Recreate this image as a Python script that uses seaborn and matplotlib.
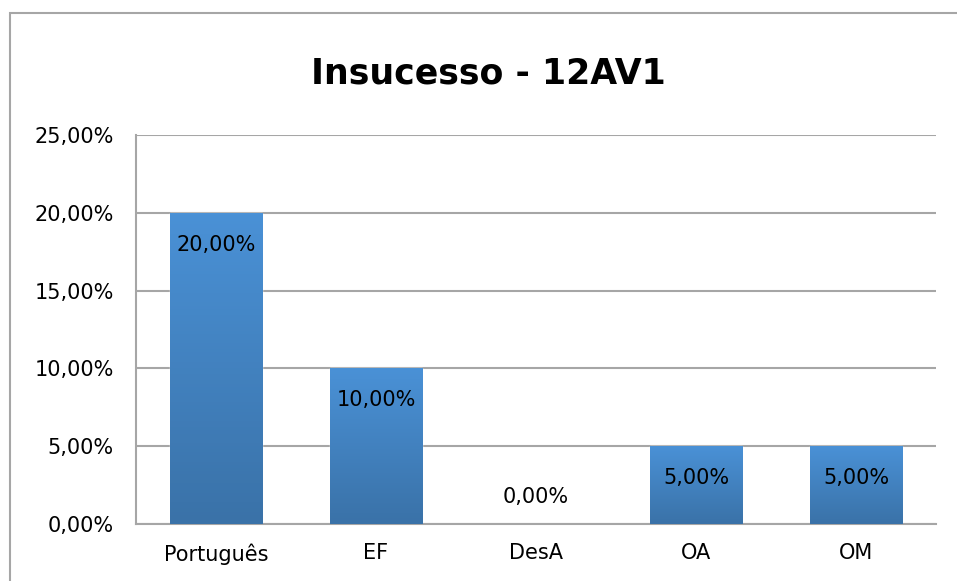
import matplotlib
matplotlib.use('Agg')
import matplotlib.pyplot as plt
import matplotlib.patches as mpatches
from matplotlib.colors import LinearSegmentedColormap
from matplotlib.ticker import FuncFormatter
import numpy as np
import pandas as pd
import seaborn as sns

disciplinas = ['Português', 'EF', 'DesA', 'OA', 'OM']
insucesso = [20.0, 10.0, 0.0, 5.0, 5.0]
titulo = 'Insucesso - 12AV1'

df = pd.DataFrame({'disciplina': disciplinas, 'insucesso': insucesso})

sns.set_style('white')
plt.rcParams['font.family'] = ['DejaVu Sans']
plt.rcParams['text.color'] = 'black'

fig = plt.figure(figsize=(9.57, 5.81), dpi=100)
ax = fig.add_axes([0.1421, 0.0981, 0.836, 0.6695])

sns.barplot(data=df, x='disciplina', y='insucesso', color='#4385c6',
            width=0.58, ax=ax, zorder=2)

# gradient fill clipped to each bar
grad = LinearSegmentedColormap.from_list('g', ['#3a72a8', '#4a91d6'])
for p in ax.patches:
    h = p.get_height()
    if h <= 0:
        continue
    x0 = p.get_x()
    w = p.get_width()
    img = ax.imshow(np.linspace(0, 1, 100).reshape(-1, 1), cmap=grad,
                    origin='lower', aspect='auto',
                    extent=[x0, x0 + w, 0, h], zorder=3)
    img.set_clip_path(p)

fmt = lambda v: ('%.2f%%' % v).replace('.', ',')
for p, v in zip(ax.patches, insucesso):
    cx = p.get_x() + p.get_width() / 2
    off = -32 if v > 0 else 27
    ax.annotate(fmt(v), (cx, v), xytext=(0, off), textcoords='offset pixels',
                ha='center', va='center', fontsize=15, color='black', zorder=4)

ax.set_ylim(0, 25)
ax.set_xlim(-0.5, len(disciplinas) - 0.5)
ax.set_yticks(np.arange(0, 26, 5))
ax.yaxis.set_major_formatter(FuncFormatter(lambda v, _: fmt(v)))
ax.grid(axis='y', color='#a6a6a6', linewidth=1.5, zorder=0)
ax.set_axisbelow(True)
ax.tick_params(axis='both', length=0, labelsize=15, colors='black')
ax.tick_params(axis='y', pad=16)
ax.tick_params(axis='x', pad=14)
ax.set_xlabel('')
ax.set_ylabel('')
for s in ['top', 'right']:
    ax.spines[s].set_visible(False)
for s in ['left', 'bottom']:
    ax.spines[s].set_color('#a6a6a6')
    ax.spines[s].set_linewidth(1.5)

fig.text(0.51, 0.874, titulo, ha='center', va='center', fontsize=25,
         fontweight='bold', color='black')

fig.patches.append(mpatches.Rectangle((0.0105, -0.2), 1.5, 1.178,
                                      transform=fig.transFigure, fill=False,
                                      edgecolor='#a6a6a6', linewidth=1.5))

fig.savefig('out.png', dpi=100)
